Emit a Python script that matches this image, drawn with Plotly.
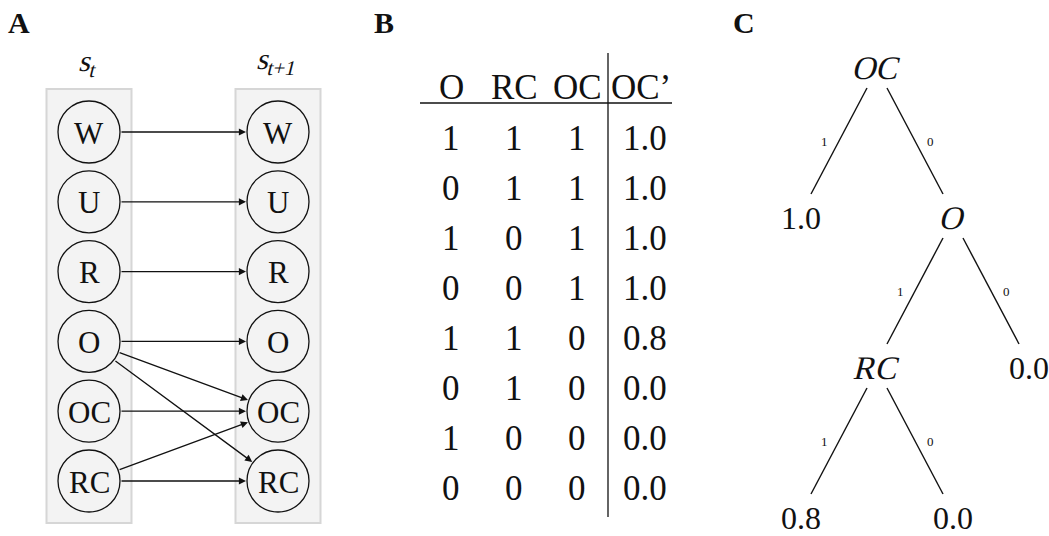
import plotly.graph_objects as go
import math

# ---------------- data ----------------
panel_labels = ["A", "B", "C"]

# Panel A: state variables and transitions s_t -> s_{t+1}
state_vars = ["W", "U", "R", "O", "OC", "RC"]
transitions = [("W", "W"), ("U", "U"), ("R", "R"), ("O", "O"),
               ("O", "OC"), ("O", "RC"), ("OC", "OC"), ("RC", "OC"), ("RC", "RC")]

# Panel B: conditional probability table
table_headers = ["O", "RC", "OC", "OC\u2019"]
col_O = [1, 0, 1, 0, 1, 0, 1, 0]
col_RC = [1, 1, 0, 0, 1, 1, 0, 0]
col_OC = [1, 1, 1, 1, 0, 0, 0, 0]
col_OC_next = [1.0, 1.0, 1.0, 1.0, 0.8, 0.0, 0.0, 0.0]

# Panel C: decision tree
tree_labels = ["OC", "1.0", "O", "RC", "0.0", "0.8", "0.0"]
tree_italic = [True, False, True, True, False, False, False]
tree_parent = [None, 0, 0, 2, 2, 3, 3]
tree_edge = [None, "1", "0", "1", "0", "1", "0"]
tree_depth = [0, 1, 1, 2, 2, 3, 3]
tree_slot = [0, -1, 1, 0, 2, -1, 1]

# ---------------- styling / layout ----------------
W, H = 1049, 536
FONT = "Liberation Serif"
BLACK = "#111111"
ITALIC_MARK = "#111113"   # same visual colour, used to find texts to slant

fig = go.Figure()
shapes = []
annotations = []

def text(x, y, s, size, bold=False, italic=False):
    if bold:
        s = "<b>" + s + "</b>"
    annotations.append(dict(x=x, y=y, xref="x", yref="y", text=s, showarrow=False,
                            font=dict(family=FONT, size=size,
                                      color=ITALIC_MARK if italic else BLACK),
                            xanchor="center", yanchor="middle"))

# panel labels
for lab, lx in zip(panel_labels, [19, 384, 744]):
    text(lx, 22, lab, 30, bold=True)

# ---- Panel A ----
col_x = [89, 278]
box_half = 42.5
node_y0, node_dy, radius = 132, 69.8, 31
for cx in col_x:
    shapes.append(dict(type="rect", xref="x", yref="y", x0=cx - box_half, x1=cx + box_half,
                       y0=89, y1=523, fillcolor="#f3f3f3",
                       line=dict(color="#d6d6d6", width=2), layer="below"))
text(col_x[0], 63, "s<sub>t</sub>", 30, italic=True)
text(col_x[1], 61, "s<sub>t+1</sub>", 30, italic=True)

node_pos = {}
for i, v in enumerate(state_vars):
    y = node_y0 + i * node_dy
    node_pos[v] = y
    for cx in col_x:
        shapes.append(dict(type="circle", xref="x", yref="y", x0=cx - radius, x1=cx + radius,
                           y0=y - radius, y1=y + radius, fillcolor="#f3f3f3",
                           line=dict(color=BLACK, width=1.3)))
        text(cx, y + 1, v, 31)

for a, b in transitions:
    x1, y1 = col_x[0], node_pos[a]
    x2, y2 = col_x[1], node_pos[b]
    dx, dy = x2 - x1, y2 - y1
    L = math.hypot(dx, dy)
    ux, uy = dx / L, dy / L
    sx, sy = x1 + ux * radius, y1 + uy * radius
    ex, ey = x2 - ux * (radius + 1), y2 - uy * (radius + 1)
    annotations.append(dict(x=ex, y=ey, ax=sx, ay=sy, xref="x", yref="y", axref="x", ayref="y",
                            text="", showarrow=True, arrowhead=2, arrowsize=1.1,
                            arrowwidth=1.3, arrowcolor=BLACK, standoff=0, startstandoff=0))

# ---- Panel B ----
tab_cols_x = [451, 514, 577, 641]
header_y, row_y0, row_dy = 87, 138, 50
for cx, h in zip(tab_cols_x, table_headers):
    text(cx, header_y, h, 35)
columns = [col_O, col_RC, col_OC]
for j, col in enumerate(columns):
    for i, v in enumerate(col):
        text(tab_cols_x[j], row_y0 + i * row_dy, str(v), 35)
for i, v in enumerate(col_OC_next):
    text(tab_cols_x[3] + 4, row_y0 + i * row_dy, f"{v:.1f}", 35)
shapes.append(dict(type="line", xref="x", yref="y", x0=420, x1=672, y0=103, y1=103,
                   line=dict(color=BLACK, width=1.3)))
shapes.append(dict(type="line", xref="x", yref="y", x0=608, x1=608, y0=53, y1=517,
                   line=dict(color=BLACK, width=1.3)))

# ---- Panel C ----
root_x, lvl_y0, lvl_dy, slot_dx = 877, 68, 150, 76
tpos = []
for d, s in zip(tree_depth, tree_slot):
    tpos.append((root_x + s * slot_dx, lvl_y0 + d * lvl_dy))
for i, lab in enumerate(tree_labels):
    x, y = tpos[i]
    text(x, y, lab, 33 if tree_italic[i] else 32, italic=tree_italic[i])
for i, p in enumerate(tree_parent):
    if p is None:
        continue
    px, py = tpos[p]
    cx, cy = tpos[i]
    side = -1 if cx < px else 1
    sx, sy = px + side * 10, py + 20
    ex, ey = cx - side * 10, cy - 24
    shapes.append(dict(type="line", xref="x", yref="y", x0=sx, y0=sy, x1=ex, y1=ey,
                       line=dict(color=BLACK, width=1.4)))
    mx, my = (sx + ex) / 2, (sy + ey) / 2
    text(mx + side * 15, my, tree_edge[i], 13)

fig.add_trace(go.Scatter(x=[0, W], y=[0, H], mode="markers", marker=dict(opacity=0),
                         hoverinfo="skip", showlegend=False))
fig.update_layout(width=W, height=H, margin=dict(l=0, r=0, t=0, b=0),
                  paper_bgcolor="white", plot_bgcolor="white",
                  shapes=shapes, annotations=annotations, showlegend=False,
                  xaxis=dict(range=[0, W], visible=False, fixedrange=True),
                  yaxis=dict(range=[H, 0], visible=False, fixedrange=True))

post = """
document.body.style.margin = '0';
function slant() {
  document.querySelectorAll('text.annotation-text').forEach(function (el) {
    var f = (el.style.fill || '').replace(/\\s/g, '');
    if (f === 'rgb(17,17,19)') {
      el.style.transformBox = 'fill-box';
      el.style.transformOrigin = 'center';
      el.style.transform = 'skewX(-14deg)';
    }
  });
}
slant();
var gd = document.getElementById('{plot_id}');
if (gd && gd.on) { gd.on('plotly_afterplot', slant); }
"""
fig.write_html("out.html", post_script=post, config={"displayModeBar": False})
